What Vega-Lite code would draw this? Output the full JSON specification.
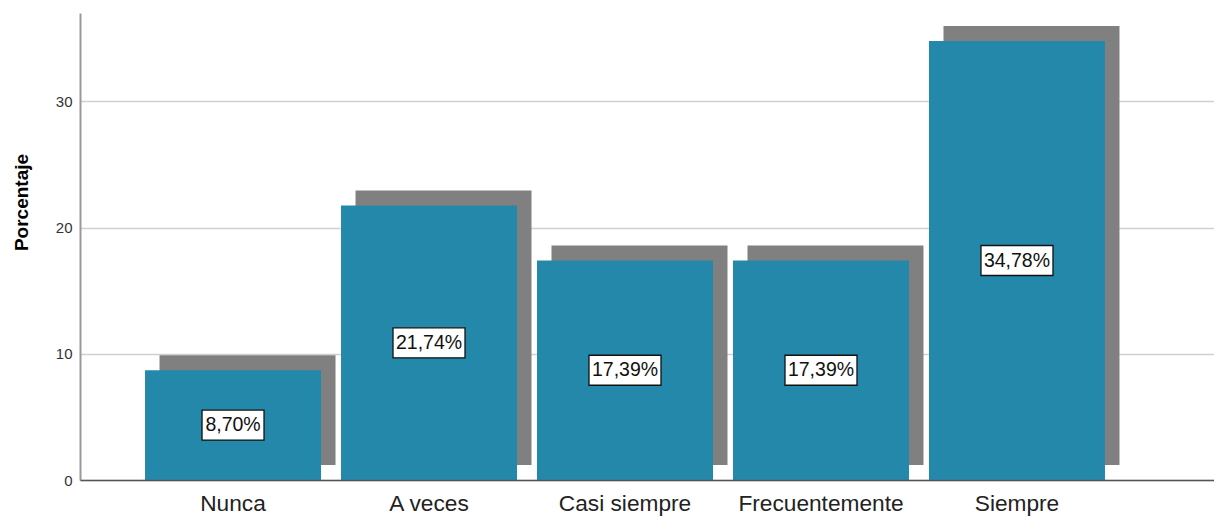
{
  "$schema": "https://vega.github.io/schema/vega-lite/v6.json",
  "width": 1134,
  "height": 467,
  "autosize": {"type": "none"},
  "padding": {"left": 80, "top": 13, "right": 0, "bottom": 36},
  "background": "white",
  "config": {
    "view": {"stroke": null},
    "font": "Liberation Sans"
  },
  "data": {
    "values": [
      {"categoria": "Nunca", "value": 8.70, "label": "8,70%"},
      {"categoria": "A veces", "value": 21.74, "label": "21,74%"},
      {"categoria": "Casi siempre", "value": 17.39, "label": "17,39%"},
      {"categoria": "Frecuentemente", "value": 17.39, "label": "17,39%"},
      {"categoria": "Siempre", "value": 34.78, "label": "34,78%"}
    ]
  },
  "encoding": {
    "x": {
      "field": "categoria",
      "type": "nominal",
      "sort": null,
      "scale": {"paddingInner": 0.102, "paddingOuter": 0.444, "align": 0.3736, "round": false},
      "axis": {
        "title": null,
        "labelAngle": 0,
        "labelFontSize": 22.7,
        "labelColor": "#222222",
        "labelFont": "Liberation Sans",
        "labelPadding": 12.5,
        "ticks": false,
        "domainColor": "#555555",
        "domainWidth": 1.5,
        "grid": false,
        "zindex": 1
      }
    }
  },
  "layer": [
    {
      "mark": {"type": "bar", "color": "#808080", "xOffset": 14.5, "yOffset": -15, "y2Offset": -15},
      "encoding": {
        "y": {
          "field": "value",
          "type": "quantitative",
          "scale": {"domain": [0, 37], "nice": false, "zero": true},
          "axis": {
            "title": "Porcentaje",
            "values": [0, 10, 20, 30],
            "labelFontSize": 15,
            "labelColor": "#333333",
            "labelPadding": 8,
            "ticks": false,
            "domainColor": "#999999",
            "domainWidth": 2,
            "gridColor": "#d0d0d0",
            "gridWidth": 1.5,
            "titleFontSize": 19,
            "titleFontWeight": "bold",
            "titleColor": "#000000",
            "titleFont": "Liberation Sans",
            "titleAngle": -90,
            "titleBaseline": "alphabetic",
            "titleAlign": "center",
            "titleX": -53,
            "titleY": 189
          }
        }
      }
    },
    {
      "mark": {"type": "bar", "color": "#2488AB"},
      "encoding": {
        "y": {"field": "value", "type": "quantitative"}
      }
    },
    {
      "transform": [{"calculate": "datum.value / 2", "as": "mid"}],
      "mark": {"type": "point", "filled": true, "fill": "white", "stroke": "#111111", "strokeWidth": 1.3, "opacity": 1, "size": 5184},
      "encoding": {
        "y": {"field": "mid", "type": "quantitative"},
        "shape": {
          "condition": {"test": "length(datum.label) < 6", "value": "M-0.861,-0.417H0.861V0.417H-0.861Z"},
          "value": "M-1,-0.417H1V0.417H-1Z"
        }
      }
    },
    {
      "transform": [{"calculate": "datum.value / 2", "as": "mid"}],
      "mark": {"type": "text", "fontSize": 19.5, "font": "Liberation Sans", "color": "#111111", "align": "center", "baseline": "middle"},
      "encoding": {
        "y": {"field": "mid", "type": "quantitative"},
        "text": {"field": "label"}
      }
    }
  ]
}
